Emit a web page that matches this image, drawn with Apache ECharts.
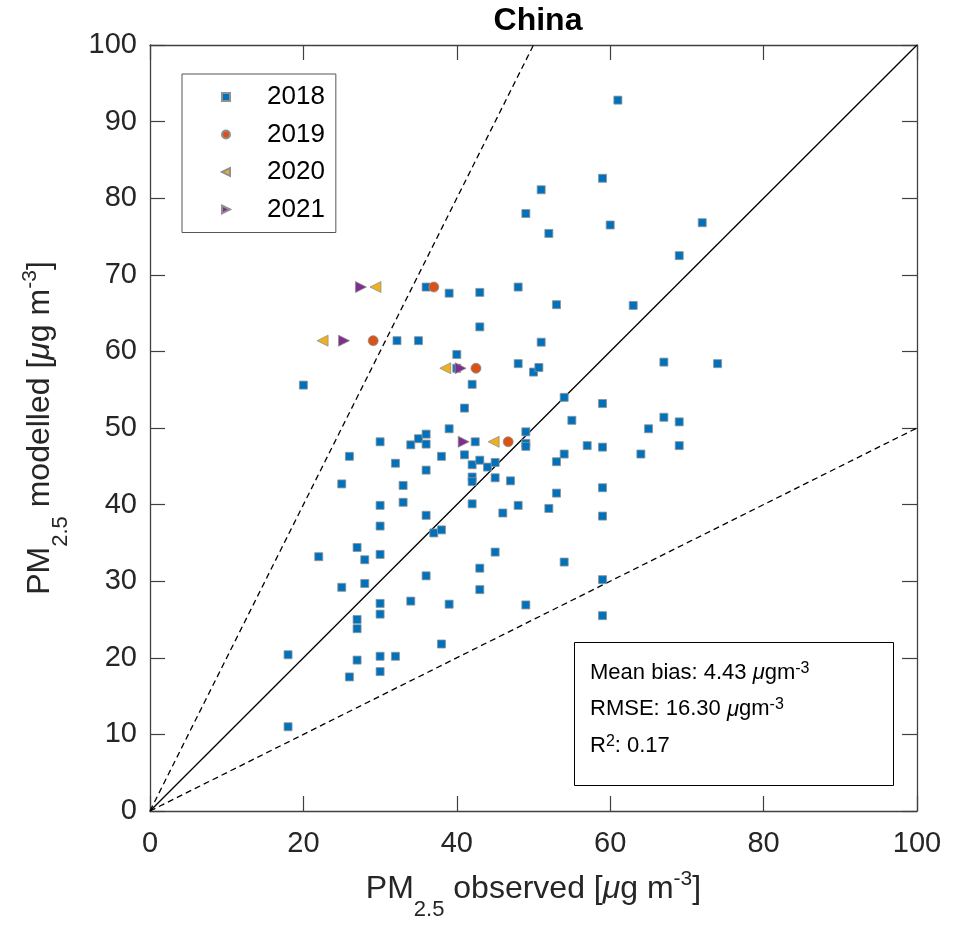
<!DOCTYPE html>
<html>
<head>
<meta charset="utf-8">
<script src="https://cdn.jsdelivr.net/npm/echarts@6/dist/echarts.min.js"></script>
<style>
html,body{margin:0;padding:0;background:#fff;}
#chart{width:959px;height:926px;}
</style>
</head>
<body>
<div id="chart"></div>
<script>
// ---- data (observed, modelled) ----
const obs2018 = [49,36,39,43,48,61,59,51,60,52,72,69,53,63,43,32.2,35,40,40,48,50,50.7,20,42,41,39,49,30,34,35,36,36,42.4,49,49,26,32,38,41,42,43,44,45,36,25,33,42,42,45,47,30,33,42,48,36,46,30,37,38,51,67,74,54,59,55,67,69,65,57,59,69,54,53,64,53,52,59,59,45,22,27,28,30,43,36,25,28,43,30,30,34,39,49,27,27,38,18,27,30,32,30,26,18,54,59,59];
const mod2018 = [78.0,68.4,67.6,67.7,68.4,92.8,82.6,81.1,76.5,75.4,76.8,72.5,66.1,66.0,63.2,61.4,61.4,59.6,57.8,58.4,57.3,57.9,55.6,55.7,52.6,49.9,49.5,48.2,47.8,48.6,49.2,47.9,48.2,48.0,47.6,46.3,45.4,46.3,46.5,45.2,45.8,44.9,45.5,44.5,42.7,42.5,43.6,43.0,43.5,43.1,39.9,40.3,40.1,39.9,38.6,38.9,37.2,36.3,36.7,61.2,58.6,58.4,54.0,53.2,51.0,51.4,50.8,49.9,47.7,47.5,47.7,46.6,45.6,46.6,41.5,39.5,42.2,38.5,33.8,33.2,34.4,32.8,33.5,31.7,30.7,29.2,29.7,28.9,27.1,25.7,27.4,27.0,26.9,25.0,23.8,21.8,20.4,19.7,20.2,20.2,18.2,17.5,11.0,32.5,30.2,25.5];
const obs2019 = [37, 29.1, 42.5, 46.7];
const mod2019 = [68.4, 61.4, 57.8, 48.2];
const obs2020 = [29.4, 22.5, 38.5, 44.8];
const mod2020 = [68.4, 61.4, 57.8, 48.2];
const obs2021 = [27.5, 25.3, 40.5, 40.9];
const mod2021 = [68.4, 61.4, 57.8, 48.2];
const seriesNames = ['2018','2019','2020','2021'];
const xTicks = [0,20,40,60,80,100];
const yTicks = [0,10,20,30,40,50,60,70,80,90,100];
const line1to1 = [[0,0],[100,100]];
const line2to1 = [[0,0],[50,100]];
const line1to2 = [[0,0],[100,50]];
const statsLines = ['Mean bias: 4.43', 'RMSE: 16.30', '0.17'];

function pairs(xs, ys){ return xs.map((x,i)=>[x, ys[i]]); }

const FONT = '"Liberation Sans", Arial, Helvetica, sans-serif';
const AX = '#262626';
const TRI_LEFT = 'path://M0,5L10,0L10,10Z';
const TRI_RIGHT = 'path://M10,5L0,0L0,10Z';

const chart = echarts.init(document.getElementById('chart'), null, {renderer:'canvas'});

const nameRich = {
  m:   {fontSize:32, fontFamily:FONT, color:AX},
  mu:  {fontSize:32, fontFamily:FONT, color:AX, fontStyle:'italic'},
  sub: {fontSize:22, fontFamily:FONT, color:AX, padding:[41,0,0,0]},
  sup: {fontSize:21, fontFamily:FONT, color:AX, padding:[0,0,20,0]}
};

function baseAxis(pos, showLabel, name, gap, ticks){
  return {
    type:'value', position:pos, min:0, max:100, interval: ticks[1]-ticks[0],
    axisLine:{show:true, onZero:false, lineStyle:{color:'#404040', width:1.3}},
    axisTick:{show:true, inside:true, length:15, lineStyle:{color:'#404040', width:1.2}},
    axisLabel:{show:showLabel, fontSize:29, fontFamily:FONT, color:AX, margin: pos==='bottom'?18:13},
    splitLine:{show:false},
    name: name || '', nameLocation:'middle', nameGap: gap || 0,
    nameTextStyle:{rich:nameRich, fontSize:32, fontFamily:FONT, color:AX}
  };
}

const scatterCommon = {type:'scatter', xAxisIndex:0, yAxisIndex:0, animation:false,
  emphasis:{disabled:true}, z:3, symbolKeepAspect:true};

const option = {
  animation:false,
  backgroundColor:'#fff',
  title:{text:'China', left:533, textAlign:'center', top:0,
    textStyle:{fontSize:32, fontWeight:'bold', fontFamily:FONT, color:'#000'}},
  grid:{left:150, top:45, width:767, height:767, containLabel:false},
  legend:{
    data:[{name:seriesNames[0]},{name:seriesNames[1]},
          {name:seriesNames[2], icon:TRI_LEFT},{name:seriesNames[3], icon:TRI_RIGHT}],
    orient:'vertical', left:182, top:74,
    padding:[9,11,9,39], itemGap:9.5, itemWidth:8, itemHeight:8,
    borderColor:'#555', borderWidth:1, backgroundColor:'#fff',
    textStyle:{fontSize:26, fontFamily:FONT, color:'#000', lineHeight:28, padding:[0,0,0,32]},
    selectedMode:false
  },
  xAxis:[
    baseAxis('bottom', true, '{m|PM}{sub|2.5}{m| observed [}{mu|μ}{m|g m}{sup|-3}{m|]}', 47, xTicks),
    baseAxis('top', false, '', 0, xTicks)
  ],
  yAxis:[
    baseAxis('left', true, '{m|PM}{sub|2.5}{m| modelled [}{mu|μ}{m|g m}{sup|-3}{m|]}', 78, yTicks),
    baseAxis('right', false, '', 0, yTicks)
  ],
  series:[
    {type:'line', data:line1to1, symbol:'none', silent:true, animation:false, z:2,
     lineStyle:{color:'#000', width:1.3}},
    {type:'line', data:line2to1, symbol:'none', silent:true, animation:false, z:2,
     lineStyle:{color:'#000', width:1.3, type:[6,4]}},
    {type:'line', data:line1to2, symbol:'none', silent:true, animation:false, z:2,
     lineStyle:{color:'#000', width:1.3, type:[6,4]}},
    Object.assign({}, scatterCommon, {name:'2018', data:pairs(obs2018, mod2018),
      symbol:'rect', symbolSize:8,
      itemStyle:{color:'#0072BD', borderColor:'#909090', borderWidth:0.8, opacity:1}}),
    Object.assign({}, scatterCommon, {name:'2019', data:pairs(obs2019, mod2019),
      symbol:'circle', symbolSize:10,
      itemStyle:{color:'#D95319', borderColor:'#909090', borderWidth:0.8, opacity:1}}),
    Object.assign({}, scatterCommon, {name:'2020', data:pairs(obs2020, mod2020),
      symbol:'triangle', symbolSize:11, symbolRotate:90,
      itemStyle:{color:'#EDB120', borderColor:'#909090', borderWidth:0.8, opacity:1}}),
    Object.assign({}, scatterCommon, {name:'2021', data:pairs(obs2021, mod2021),
      symbol:'triangle', symbolSize:11, symbolRotate:-90,
      itemStyle:{color:'#7E2F8E', borderColor:'#909090', borderWidth:0.8, opacity:1}})
  ],
  graphic:[
    {type:'rect', left:574, top:642, z:10,
     shape:{width:319, height:143},
     style:{fill:'#fff', stroke:'#000', lineWidth:1}},
    {type:'text', x:590, y:672.7, z:11,
     style:{text:statsLines[0] + ' {mu|μ}gm{sup|-3}', fontSize:22, fontFamily:FONT, fill:'#000',
       verticalAlign:'middle',
       rich:{mu:{fontSize:22, fontFamily:FONT, fontStyle:'italic'}, sup:{fontSize:16, fontFamily:FONT, padding:[0,0,9,0]}}}},
    {type:'text', x:590, y:709.4, z:11,
     style:{text:statsLines[1] + ' {mu|μ}gm{sup|-3}', fontSize:22, fontFamily:FONT, fill:'#000',
       verticalAlign:'middle',
       rich:{mu:{fontSize:22, fontFamily:FONT, fontStyle:'italic'}, sup:{fontSize:16, fontFamily:FONT, padding:[0,0,9,0]}}}},
    {type:'text', x:590, y:745.7, z:11,
     style:{text:'R{sup|2}: ' + statsLines[2], fontSize:22, fontFamily:FONT, fill:'#000',
       verticalAlign:'middle',
       rich:{sup:{fontSize:16, fontFamily:FONT, padding:[0,0,9,0]}}}}
  ]
};
chart.setOption(option);
</script>
</body>
</html>
